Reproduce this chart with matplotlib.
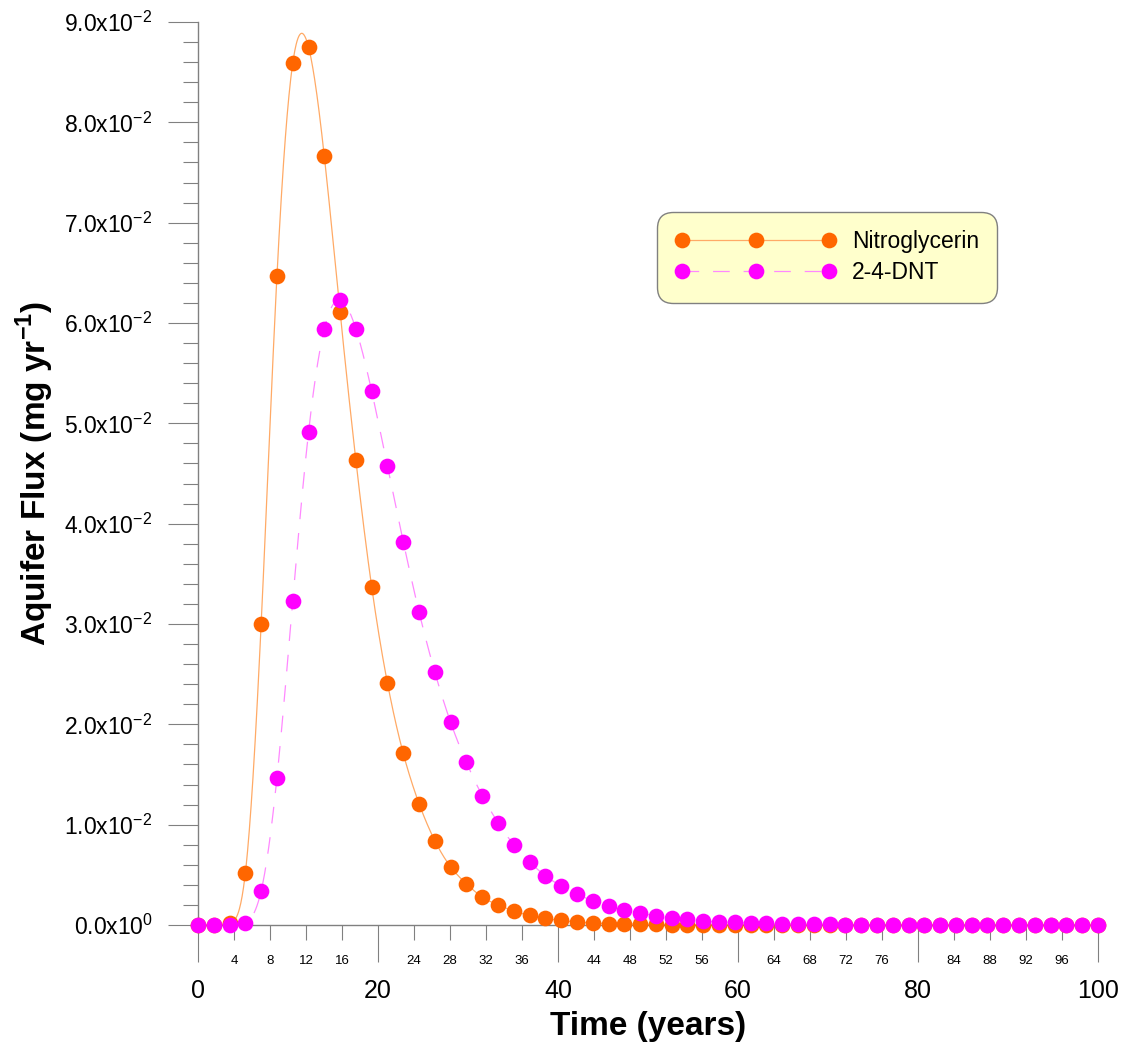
import numpy as np
import matplotlib
matplotlib.use('Agg')
import matplotlib.pyplot as plt
from matplotlib.lines import Line2D
from matplotlib.ticker import MultipleLocator, FuncFormatter

plt.rcParams['font.family'] = ['Liberation Sans', 'DejaVu Sans']
plt.rcParams['mathtext.fontset'] = 'custom'
plt.rcParams['mathtext.rm'] = 'Liberation Sans'
plt.rcParams['mathtext.bf'] = 'Liberation Sans:bold'
plt.rcParams['lines.scale_dashes'] = False

# sample times (years)
time = np.linspace(0, 100, 58)

# aquifer flux, x1e-2 mg/yr
nitroglycerin = [0, 0, 0.02, 0.52, 3.00, 6.47, 8.59, 8.75, 7.66, 6.11,
                 4.63, 3.37, 2.41, 1.71, 1.21, 0.84, 0.58, 0.41, 0.28, 0.20,
                 0.14, 0.095, 0.065, 0.045, 0.03, 0.02, 0.014, 0.01, 0.007, 0.005,
                 0.003, 0.002, 0.0015, 0.001, 0.0007, 0.0005, 0.0003, 0.0002, 0.0001, 0.0001,
                 0, 0, 0, 0, 0, 0, 0, 0, 0, 0,
                 0, 0, 0, 0, 0, 0, 0, 0]
dnt = [0, 0, 0, 0.02, 0.34, 1.47, 3.23, 4.91, 5.94, 6.23,
       5.94, 5.32, 4.57, 3.82, 3.12, 2.52, 2.02, 1.62, 1.29, 1.02,
       0.80, 0.63, 0.49, 0.39, 0.31, 0.24, 0.19, 0.15, 0.12, 0.09,
       0.07, 0.055, 0.04, 0.03, 0.025, 0.02, 0.015, 0.011, 0.008, 0.006,
       0.005, 0.004, 0.003, 0.002, 0.0015, 0.001, 0.0008, 0.0006, 0.0004, 0.0003,
       0.0002, 0.0002, 0.0001, 0.0001, 0, 0, 0, 0]

nitroglycerin = np.array(nitroglycerin) * 1e-2
dnt = np.array(dnt) * 1e-2


def natural_spline(x, y, xs):
    # natural cubic spline through (x, y), evaluated at xs
    n = len(x)
    h = np.diff(x)
    A = np.zeros((n, n))
    r = np.zeros(n)
    A[0, 0] = A[-1, -1] = 1
    for i in range(1, n - 1):
        A[i, i - 1] = h[i - 1]
        A[i, i] = 2 * (h[i - 1] + h[i])
        A[i, i + 1] = h[i]
        r[i] = 6 * ((y[i + 1] - y[i]) / h[i] - (y[i] - y[i - 1]) / h[i - 1])
    m = np.linalg.solve(A, r)
    k = np.clip(np.searchsorted(x, xs) - 1, 0, n - 2)
    t = xs - x[k]
    hk = h[k]
    a = (m[k + 1] - m[k]) / (6 * hk)
    b = m[k] / 2
    c = (y[k + 1] - y[k]) / hk - hk * (2 * m[k] + m[k + 1]) / 6
    return y[k] + c * t + b * t ** 2 + a * t ** 3


orange = '#FF6600'
orange_line = '#FFAA66'
magenta = '#FF00FF'
magenta_line = '#FF88FF'
grey = '#808080'

fig = plt.figure(figsize=(11.27, 10.51), dpi=100)
ax = fig.add_axes([198 / 1127, 126 / 1051, 900 / 1127, 903 / 1051])

tt = np.linspace(0, 100, 2000)
ax.plot(tt, natural_spline(time, nitroglycerin, tt), color=orange_line, lw=0.9,
        zorder=2, clip_on=False)
ax.plot(tt, natural_spline(time, dnt, tt), color=magenta_line, lw=0.9,
        dashes=(12, 10), zorder=2, clip_on=False)
ax.plot(time, nitroglycerin, 'o', color=orange, ms=11.3, mew=0, zorder=3,
        clip_on=False)
ax.plot(time, dnt, 'o', color=magenta, ms=11.3, mew=0, zorder=4, clip_on=False)

ax.set_xlim(0, 100)
ax.set_ylim(0, 0.09)

for s in ['top', 'right']:
    ax.spines[s].set_visible(False)
for s in ['left', 'bottom']:
    ax.spines[s].set_color(grey)
    ax.spines[s].set_linewidth(1)

ax.xaxis.set_major_locator(MultipleLocator(20))
ax.xaxis.set_minor_locator(MultipleLocator(4))
ax.xaxis.set_minor_formatter(FuncFormatter(lambda v, p: '%d' % v))
ax.yaxis.set_major_locator(MultipleLocator(0.01))
ax.yaxis.set_minor_locator(MultipleLocator(0.002))


def yfmt(v, p):
    if abs(v) < 1e-12:
        return r'$\mathregular{0.0x10^{0}}$'
    return r'$\mathregular{%.1fx10^{-2}}$' % (v * 100)


ax.yaxis.set_major_formatter(FuncFormatter(yfmt))

ax.tick_params(axis='x', which='major', direction='out', length=26.6, width=0.8,
               color=grey, labelsize=18, pad=12)
ax.tick_params(axis='x', which='minor', direction='out', length=10.8, width=0.8,
               color=grey, labelsize=9.5, pad=11)
ax.tick_params(axis='y', which='major', direction='out', length=21.6, width=0.8,
               color=grey, labelsize=16.5, pad=11)
ax.tick_params(axis='y', which='minor', direction='out', length=10.8, width=0.8,
               color=grey)

ax.set_xlabel('Time (years)', fontsize=24, fontweight='bold', labelpad=6)
ax.set_ylabel(r'Aquifer Flux (mg yr$^{\mathbf{-1}}$)', fontsize=24,
              fontweight='bold', labelpad=6)

handles = [
    Line2D([], [], color=orange_line, lw=0.9, marker='o', ms=11.3,
           mfc=orange, mec=orange, mew=0),
    Line2D([], [], color=magenta_line, lw=0.9, dashes=(12, 10), marker='o',
           ms=11.3, mfc=magenta, mec=magenta, mew=0),
]
leg = fig.legend(handles, ['Nitroglycerin', '2-4-DNT'], loc='upper left',
                 bbox_to_anchor=(657 / 1127, 1 - 212 / 1051), borderaxespad=0,
                 numpoints=3, handlelength=7.0, handletextpad=0.7,
                 borderpad=0.8, labelspacing=0.35, fontsize=16.5,
                 fancybox=True, framealpha=1)
frame = leg.get_frame()
frame.set_facecolor('#FFFFCC')
frame.set_edgecolor(grey)
frame.set_linewidth(1)
frame.set_boxstyle('round,pad=0,rounding_size=0.7')

fig.savefig('out.png', dpi=100)
